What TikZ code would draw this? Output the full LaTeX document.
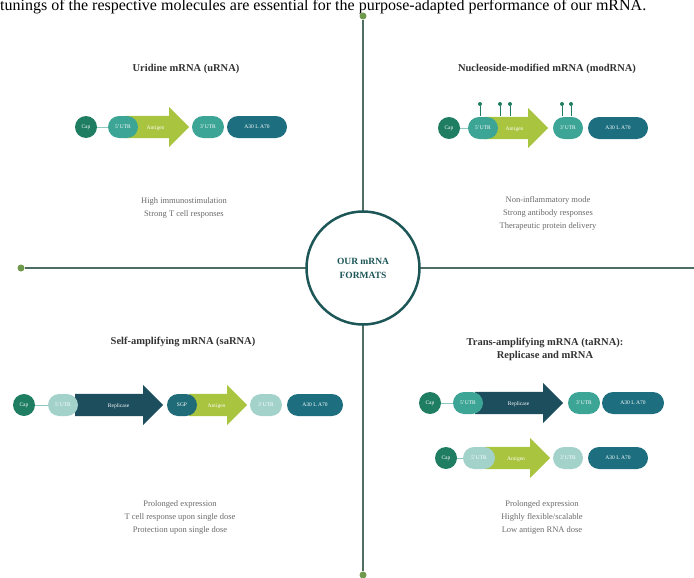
\documentclass[tikz,border=0pt]{standalone}
\usepackage{fontspec}
\setmainfont{Liberation Serif}
\usetikzlibrary{positioning, shapes.arrows}
\definecolor{capgreen}{HTML}{1F7D62}
\definecolor{utrteal}{HTML}{3CA596}
\definecolor{utrlight}{HTML}{A3D2CB}
\definecolor{antigen}{HTML}{A9C43E}
\definecolor{tailteal}{HTML}{1D6F80}
\definecolor{replblue}{HTML}{1D4E5D}
\definecolor{sgpteal}{HTML}{1F6C78}
\definecolor{hubteal}{HTML}{1D5657}
\definecolor{axisgray}{HTML}{4F6E63}
\definecolor{dotgreen}{HTML}{6F994C}
\definecolor{titlegray}{HTML}{333333}
\definecolor{notegray}{HTML}{6A6A6A}
\tikzset{
    capc/.style={circle, fill=capgreen, minimum size=22pt, inner sep=0pt, text=white, font=\fontsize{5.5}{6}\selectfont},
    utr/.style={rectangle, rounded corners=11pt, fill=utrteal, minimum height=22pt, minimum width=30pt, inner sep=0pt, text=white, font=\fontsize{5.5}{6}\selectfont},
    lutr/.style={utr, fill=utrlight},
    tail/.style={utr, fill=tailteal, minimum width=60pt},
    sgp/.style={utr, fill=sgpteal},
    gene/.style={single arrow, fill=antigen, single arrow head extend=9pt, inner xsep=2pt, inner ysep=0pt, text height=13pt, text depth=9pt, text=white, font=\fontsize{5.5}{6}\selectfont, anchor=west},
    repl/.style={gene, fill=replblue},
    title/.style={font=\bfseries\fontsize{10.5}{13}\selectfont, text=titlegray, align=center},
    note/.style={font=\fontsize{8.5}{13}\selectfont, text=notegray, align=center},
    hub/.style={circle, draw=hubteal, line width=2.5pt, fill=white, minimum size=113pt, font=\bfseries\fontsize{9.5}{14}\selectfont, text=hubteal, align=center},
    enddot/.style={circle, fill=dotgreen, minimum size=7pt, inner sep=0pt},
    axis/.style={draw=axisgray, line width=1.2pt},
    link/.style={draw=utrteal!60, line width=0.8pt},
    modpin/.style={circle, fill=capgreen, minimum size=4pt, inner sep=0pt},
}

\begin{document}
\begin{tikzpicture}[x=1pt, y=-1pt]
\useasboundingbox (0,0) rectangle (694,578);
\node[anchor=base west, inner sep=0pt, font=\fontsize{16}{18}\selectfont] (intro) at (0,11) {tunings of the respective molecules are essential for the purpose-adapted performance of our mRNA.};

% axes and centre
\node[enddot] (dn) at (363,16) {};
\node[enddot] (ds) at (363,575) {};
\node[enddot] (dw) at (21,268) {};
\coordinate (de) at (694,268);
\draw[axis] (dn) -- (ds);
\draw[axis] (dw) -- (de);
\node[hub] (hub) at (363,268) {OUR mRNA\\FORMATS};

% uRNA
\node[title] (t1) at (186,69) {Uridine mRNA (uRNA)};
\node[gene, minimum height=64pt] (ag1) at (125,127) {\hspace{8pt}Antigen};
\node[capc] (cap1) at (86,127) {Cap};
\node[utr] (u51) at (123,127) {5'UTR};
\node[utr, minimum width=32pt] (u31) at (208,127) {3'UTR};
\node[tail] (pa1) at (257,127) {A30 L A70};
\draw[link] (cap1) -- (u51);
\node[note] (n1) at (184,208) {High immunostimulation\\Strong T cell responses};

% modRNA
\node[title] (t2) at (547,69) {Nucleoside-modified mRNA (modRNA)};
\foreach \i/\x in {1/480,2/500,3/510,4/562,5/571} {
    \node[modpin] (mod\i) at (\x,104) {};
    \draw[link, draw=capgreen] (mod\i) -- ++(0,12);
}
\node[gene, minimum height=64pt] (ag2) at (484,128) {\hspace{8pt}Antigen};
\node[capc] (cap2) at (449,128) {Cap};
\node[utr] (u52) at (483,128) {5'UTR};
\node[utr] (u32) at (568,128) {3'UTR};
\node[tail] (pa2) at (618,128) {A30 L A70};
\draw[link] (cap2) -- (u52);
\node[note] (n2) at (548,213) {Non-inflammatory mode\\Strong antibody responses\\Therapeutic protein delivery};

% saRNA
\node[title] (t3) at (183,342) {Self-amplifying mRNA (saRNA)};
\node[repl, minimum height=88pt] (rp3) at (75,405) {\hspace{10pt}Replicase};
\node[gene, minimum height=58pt] (ag3) at (189,405) {\hspace{8pt}Antigen};
\node[capc] (cap3) at (24,405) {Cap};
\node[lutr] (u53) at (63,405) {5'UTR};
\node[sgp] (sg3) at (182,405) {SGP};
\node[lutr, minimum width=32pt] (u33) at (266,405) {3'UTR};
\node[tail, minimum width=56pt] (pa3) at (315,405) {A30 L A70};
\draw[link] (cap3) -- (u53);
\node[note] (n3) at (180,517) {Prolonged expression\\T cell response upon single dose\\Protection upon single dose};

% taRNA
\node[title] (t4) at (545,349) {Trans-amplifying mRNA (taRNA):\\Replicase and mRNA};
\node[repl, minimum height=88pt] (rp4) at (475,403) {\hspace{10pt}Replicase};
\node[capc] (cap4) at (430,403) {Cap};
\node[utr] (u54) at (468,403) {5'UTR};
\node[utr, minimum width=32pt] (u34) at (584,403) {3'UTR};
\node[tail, minimum width=62pt] (pa4) at (633,403) {A30 L A70};
\draw[link] (cap4) -- (u54);
\node[gene, minimum height=65pt] (ag5) at (485,458) {\hspace{8pt}Antigen};
\node[capc] (cap5) at (446,458) {Cap};
\node[lutr, minimum width=32pt] (u55) at (479,458) {5'UTR};
\node[lutr] (u35) at (568,458) {3'UTR};
\node[tail] (pa5) at (618,458) {A30 L A70};
\draw[link] (cap5) -- (u55);
\node[note] (n4) at (542,517) {Prolonged expression\\Highly flexible/scalable\\Low antigen RNA dose};
\end{tikzpicture}
\end{document}
